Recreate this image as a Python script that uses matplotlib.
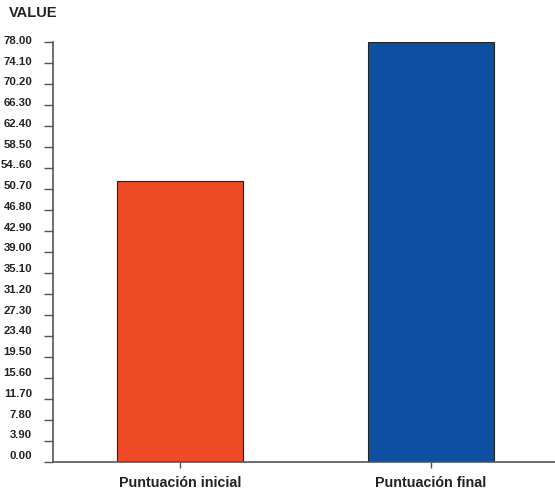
import matplotlib
matplotlib.use("Agg")
import matplotlib.pyplot as plt
import matplotlib.transforms as mtransforms

categories = ["Puntuación inicial", "Puntuación final"]
values = [52.2, 78.0]
tick_values = [0, 3.9, 7.8, 11.7, 15.6, 19.5, 23.4, 27.3, 31.2, 35.1, 39.0,
               42.9, 46.8, 50.7, 54.6, 58.5, 62.4, 66.3, 70.2, 74.1, 78.0]
tick_labels = ["0.00", "3.90", "7.80", "11.70", "15.60", "19.50", "23.40", "27.30",
               "31.20", "35.10", "39.00", "42.90", "46.80", "50.70", "54..60",
               "58.50", "62.40", "66.30", "70.20", "74.10", "78.00"]
colors = ["#EE4A25", "#0D4FA1"]

plt.rcParams['font.family'] = ["Liberation Sans", "DejaVu Sans"]

fig = plt.figure(figsize=(5.55, 4.91), dpi=100)
ax = fig.add_axes([53/555, 1-462/491, (555-53)/555, (462-42)/491])

x = list(range(len(categories)))
ax.bar(x, values, width=0.502, color=colors, edgecolor="#222222", linewidth=0.8, zorder=2)

ax.set_xlim(-0.506, 1.494)
ax.set_ylim(0, 78.0)
ax.set_yticks(tick_values)
ax.set_yticklabels(tick_labels, fontsize=8.2, fontweight="bold", color="#222222")
ax.set_xticks(x)
ax.set_xticklabels(categories, fontsize=10.3, fontweight="bold", color="#222222")

for s in ["top", "right"]:
    ax.spines[s].set_visible(False)
for s in ["left", "bottom"]:
    ax.spines[s].set_color("#555555")
    ax.spines[s].set_linewidth(1.2)

ax.tick_params(axis="y", length=6.5, width=1.0, color="#555555", pad=8.5)
ax.tick_params(axis="x", length=4, width=1.0, color="#555555", pad=6)

n = len(tick_values)
for i, lab in enumerate(ax.get_yticklabels()):
    off = (7 - 5 * i / (n - 1)) / 100.0
    lab.set_transform(lab.get_transform() + mtransforms.ScaledTranslation(0, off, fig.dpi_scale_trans))

fig.text(9/555, 1-13/491, "VALUE", fontsize=10.5, fontweight="bold", color="#222222",
         ha="left", va="center")

fig.savefig("out.png", dpi=100)
